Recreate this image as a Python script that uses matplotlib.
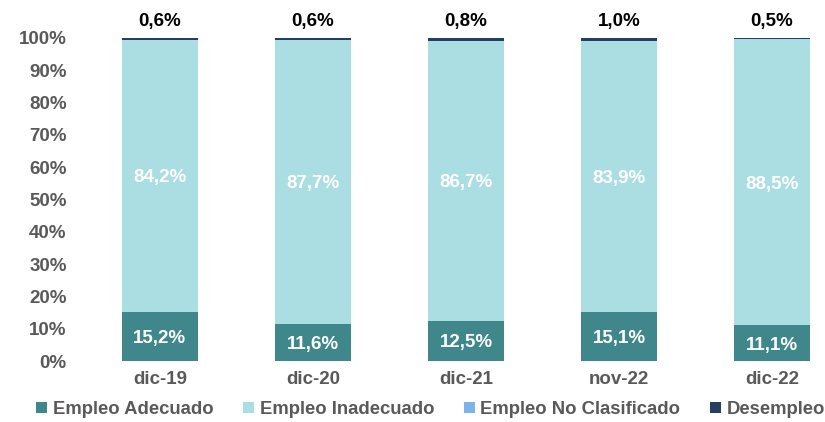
import numpy as np
import matplotlib
matplotlib.use("Agg")
import matplotlib.pyplot as plt

plt.rcParams['font.family'] = ['Liberation Sans', 'DejaVu Sans']
plt.rcParams['font.weight'] = 'bold'

# data
periodos = ["dic-19", "dic-20", "dic-21", "nov-22", "dic-22"]
adecuado = [15.2, 11.6, 12.5, 15.1, 11.1]
inadecuado = [84.2, 87.7, 86.7, 83.9, 88.5]
no_clasificado = [0.0, 0.0, 0.0, 0.0, 0.0]
desempleo = [0.6, 0.6, 0.8, 1.0, 0.5]

series = ["Empleo Adecuado", "Empleo Inadecuado", "Empleo No Clasificado", "Desempleo"]
colores = ["#3f878b", "#aadee2", "#7eb3e8", "#243f60"]
gris = "#595959"

fig = plt.figure(figsize=(8.25, 4.22), dpi=100)
ax = fig.add_axes([0.101, 0.1445, 0.899, 0.7655])

x = np.arange(len(periodos))
w = 0.5
base = np.zeros(len(periodos))
for vals, nombre, col in zip([adecuado, inadecuado, no_clasificado, desempleo], series, colores):
    v = np.array(vals)
    ax.bar(x, v, w, bottom=base, color=col, label=nombre, linewidth=0)
    base = base + v

def fmt(v):
    return f"{v:.1f}%".replace(".", ",")

for i in range(len(periodos)):
    ax.text(x[i], adecuado[i] / 2, fmt(adecuado[i]), ha="center", va="center_baseline",
            color="white", fontsize=13.5, fontweight="bold")
    ax.text(x[i], adecuado[i] + inadecuado[i] / 2, fmt(inadecuado[i]), ha="center",
            va="center_baseline", color="white", fontsize=13.5, fontweight="bold")
    ax.text(x[i], base[i] + 2.5, fmt(desempleo[i]), ha="center", va="bottom",
            color="black", fontsize=13.5, fontweight="bold")

ax.set_xlim(-0.5, 4.346)
ax.set_ylim(0, 100)
ax.set_yticks(np.arange(0, 101, 10))
ax.set_yticklabels([f"{t}%" for t in range(0, 101, 10)])
ax.set_xticks(x)
ax.set_xticklabels(periodos)
ax.tick_params(axis="both", length=0, colors=gris, labelsize=13.5)
ax.tick_params(axis="x", pad=7)
ax.tick_params(axis="y", pad=12)
for s in ax.spines.values():
    s.set_visible(False)

fig.legend(loc="lower center", bbox_to_anchor=(0.522, -0.03), ncol=4, frameon=False,
           fontsize=13.3, labelcolor=gris, handlelength=0.6, handleheight=0.6,
           handletextpad=0.3, columnspacing=1.6)

fig.savefig("out.png", dpi=100)
